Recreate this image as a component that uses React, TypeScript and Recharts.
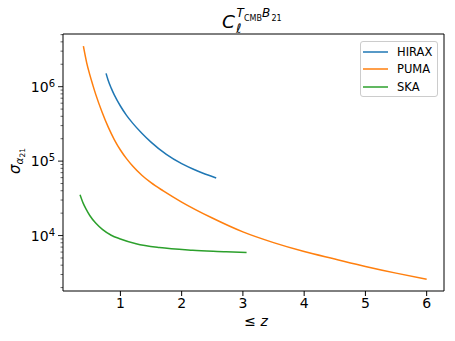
import { LineChart, Line, XAxis, YAxis, Legend } from "recharts";

// sigma_alpha21 vs max redshift, C_ell^{T_CMB B_21}
const zHirax = [0.766, 0.8, 0.85, 0.9, 1.0, 1.1, 1.2, 1.35, 1.5, 1.75, 2.0, 2.25, 2.564];
const sigmaHirax = [1.51e6, 1.22e6, 9.55e5, 7.76e5, 5.5e5, 4.12e5, 3.24e5, 2.37e5, 1.8e5, 1.23e5, 9.23e4, 7.41e4, 5.94e4];

const zPuma = [
  0.396, 0.45, 0.5, 0.55, 0.6, 0.7, 0.8, 0.9, 1.0, 1.1, 1.2, 1.35, 1.5, 1.7, 2.0, 2.5, 3.0, 3.5, 4.0, 4.5,
  5.0, 5.5, 6.0,
];
const sigmaPuma = [
  3.5e6, 2.09e6, 1.45e6, 1.05e6, 7.76e5, 4.57e5, 2.88e5, 1.95e5, 1.41e5, 1.08e5, 8.6e4, 6.46e4, 5.13e4,
  3.98e4, 2.82e4, 1.72e4, 1.12e4, 8.04e3, 6.1e3, 4.84e3, 3.85e3, 3.13e3, 2.59e3,
];

const zSka = [0.341, 0.39, 0.44, 0.5, 0.6, 0.711, 0.85, 1.0, 1.256, 1.637, 2.18, 2.727, 3.06];
const sigmaSka = [3.53e4, 2.75e4, 2.26e4, 1.86e4, 1.46e4, 1.2e4, 1.01e4, 9.0e3, 7.76e3, 6.89e3, 6.35e3, 6.08e3, 5.9e3];

const xTicks = [1, 2, 3, 4, 5, 6];
const yMajor = [1e4, 1e5, 1e6];
const yMinor = [
  2e3, 3e3, 4e3, 5e3, 6e3, 7e3, 8e3, 9e3,
  2e4, 3e4, 4e4, 5e4, 6e4, 7e4, 8e4, 9e4,
  2e5, 3e5, 4e5, 5e5, 6e5, 7e5, 8e5, 9e5,
  2e6, 3e6, 4e6, 5e6,
];

const series = [
  { name: "HIRAX", color: "#1f77b4", z: zHirax, sigma: sigmaHirax },
  { name: "PUMA", color: "#ff7f0e", z: zPuma, sigma: sigmaPuma },
  { name: "SKA", color: "#2ca02c", z: zSka, sigma: sigmaSka },
];

const font = "DejaVu Sans";
const yTicks = [...yMajor, ...yMinor].sort((a, b) => a - b);

function YTick({ x, y, payload }: any) {
  const v = payload.value;
  const e = Math.round(Math.log10(v));
  const major = yMajor.includes(v);
  return (
    <g>
      <line x1={x - (major ? 5 : 2.5)} x2={x} y1={y} y2={y} stroke="#000" strokeWidth={major ? 0.9 : 0.6} />
      {major && (
        <text x={x - 8} y={y + 5} textAnchor="end" fontFamily={font} fontSize={14} fill="#000">
          10
          <tspan dy={-5} fontSize={10}>
            {e}
          </tspan>
        </text>
      )}
    </g>
  );
}

function LegendBox() {
  return (
    <div
      style={{
        width: 78,
        height: 56,
        boxSizing: "border-box",
        border: "1px solid #cccccc",
        borderRadius: 3,
        background: "rgba(255,255,255,0.8)",
        fontFamily: font,
        fontSize: 11.5,
        color: "#000",
        paddingTop: 1,
      }}
    >
      {series.map((s) => (
        <div key={s.name} style={{ display: "flex", alignItems: "center", height: 17.5 }}>
          <svg width={25} height={4} style={{ marginLeft: 2, marginRight: 9 }}>
            <line x1={0} x2={25} y1={2} y2={2} stroke={s.color} strokeWidth={1.5} />
          </svg>
          <span>{s.name}</span>
        </div>
      ))}
    </div>
  );
}

export default function App() {
  return (
    <div style={{ position: "absolute", left: 0, top: 0, width: 455, height: 341, background: "#fff" }}>
      <LineChart width={455} height={341} margin={{ top: 33, right: 10, bottom: 20, left: 0 }}>
        <XAxis
          type="number"
          dataKey="z"
          domain={[0.063, 6.283]}
          allowDataOverflow
          ticks={xTicks}
          interval={0}
          height={30}
          tickSize={5}
          stroke="#000"
          tick={{ fill: "#000", fontSize: 14, fontFamily: font }}
        />
        <XAxis xAxisId="top" orientation="top" type="number" domain={[0, 1]} height={1} tick={false} tickLine={false} stroke="#000" />
        <YAxis
          scale="log"
          type="number"
          domain={[1800, 5.1e6]}
          allowDataOverflow
          ticks={yTicks}
          interval={0}
          width={63}
          tickSize={0}
          tickMargin={0}
          tickLine={false}
          stroke="#000"
          tick={<YTick />}
        />
        <YAxis yAxisId="right" orientation="right" type="number" domain={[0, 1]} width={1} tick={false} tickLine={false} stroke="#000" />
        {series.map((s) => (
          <Line
            key={s.name}
            name={s.name}
            data={s.z.map((z, i) => ({ z, sigma: s.sigma[i] }))}
            dataKey="sigma"
            type="monotone"
            stroke={s.color}
            strokeWidth={1.5}
            dot={false}
            isAnimationActive={false}
          />
        ))}
        <Legend
          layout="vertical"
          align="center"
          verticalAlign="middle"
          content={<LegendBox />}
          wrapperStyle={{ position: "absolute", left: 360, top: 41, width: "auto", height: "auto" }}
        />
        <text fontFamily={font} fill="#000">
          <tspan x={222} y={28.3} fontSize={18.5} fontStyle="italic">C</tspan>
          <tspan x={236} y={33} fontSize={13} fontStyle="italic">ℓ</tspan>
          <tspan x={236.5} y={16.7} fontSize={12} fontStyle="italic">T</tspan>
          <tspan x={244} y={20.5} fontSize={8}>CMB</tspan>
          <tspan x={262} y={16.7} fontSize={12} fontStyle="italic">B</tspan>
          <tspan x={271.5} y={20.5} fontSize={8}>21</tspan>
        </text>
        <text
          x={20}
          y={161}
          transform="rotate(-90, 20, 161)"
          textAnchor="middle"
          fontFamily={font}
          fill="#000"
        >
          <tspan fontSize={15} fontStyle="italic">σ</tspan>
          <tspan fontSize={10.5} fontStyle="italic" dy={3}>α</tspan>
          <tspan fontSize={7.5} dy={1.5}>21</tspan>
        </text>
        <text x={256} y={326} textAnchor="middle" fontFamily={font} fontSize={14} fill="#000">
          ≤ <tspan fontStyle="italic">z</tspan>
        </text>
      </LineChart>
    </div>
  );
}
